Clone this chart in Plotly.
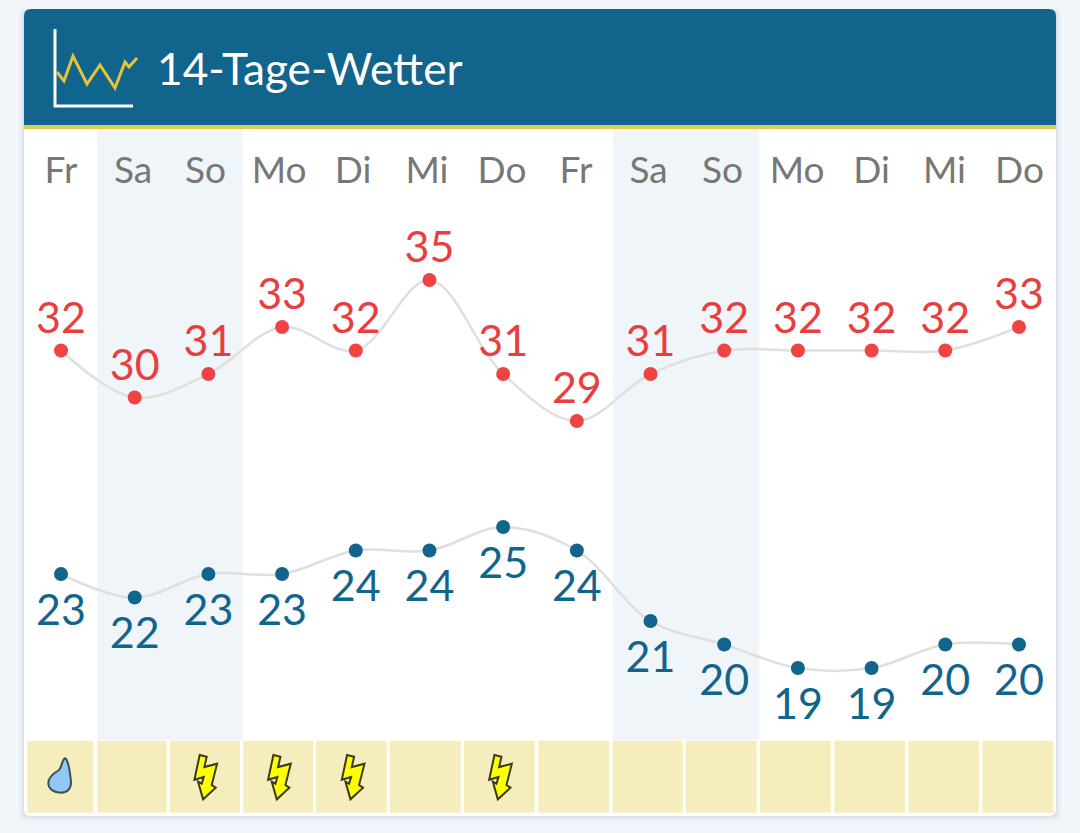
import plotly.graph_objects as go

days = ["Fr", "Sa", "So", "Mo", "Di", "Mi", "Do", "Fr", "Sa", "So", "Mo", "Di", "Mi", "Do"]
highs = [32, 30, 31, 33, 32, 35, 31, 29, 31, 32, 32, 32, 32, 33]
lows = [23, 22, 23, 23, 24, 24, 25, 24, 21, 20, 19, 19, 20, 20]
icons = ["rain", "", "bolt", "bolt", "bolt", "", "bolt", "", "", "", "", "", "", ""]
title = "14-Tage-Wetter"

W, H = 1080, 833
BLUE = "#11648c"
RED = "#f04444"
FONT = "Lato"
x_idx = list(range(len(days)))

# the header row and the tile row are table cells, they don't line up exactly with the points
LABEL_PX = [61, 133, 205.5, 279, 353, 427, 502, 576, 648.5, 722.5, 797, 871.5, 944.5, 1019.5]
TILE_PX = [(27.3, 93.3), (97.3, 166.7), (170, 240), (243.3, 313.3), (316, 386.7), (390, 460.7), (464, 534.7),
           (538.3, 609.3), (612.7, 682.7), (686, 756.7), (760, 830.7), (834.3, 905), (908.3, 979), (982.3, 1053.3)]


def px(pts, close=True):
    # chrome is laid out in page pixels, y counted from the top
    d = "M" + " L".join(f"{x},{-y}" for x, y in pts)
    return d + (" Z" if close else "")


def chrome(path, **kw):
    return dict(type="path", path=path, xref="paper", yref="paper", xsizemode="pixel", ysizemode="pixel",
                xanchor=0, yanchor=1, layer="below", **kw)


def round_rect(x0, y0, x1, y1, tl=7, tr=7, br=7, bl=7):
    return (f"M{x0+tl},{-y0} L{x1-tr},{-y0} Q{x1},{-y0} {x1},{-y0-tr} L{x1},{-y1+br} Q{x1},{-y1} {x1-br},{-y1} "
            f"L{x0+bl},{-y1} Q{x0},{-y1} {x0},{-y1+bl} L{x0},{-y0-tl} Q{x0},{-y0} {x0+tl},{-y0} Z")


shapes = []
# card shadow, card, header
for grow, alpha in [(5, 0.025), (3, 0.035), (1, 0.05)]:
    shapes.append(chrome(round_rect(24 - grow, 9, 1056 + grow, 816 + grow), fillcolor=f"rgba(20,60,90,{alpha})",
                         line_width=0))
shapes.append(chrome(round_rect(24, 9, 1056, 816), fillcolor="white", line_width=0))
shapes.append(chrome(round_rect(24, 9, 1056, 125, br=0, bl=0), fillcolor=BLUE, line_width=0))
shapes.append(chrome(px([(24, 125), (1056, 125), (1056, 129), (24, 129)]), fillcolor="#e3c94e", line_width=0))

# header icon
shapes.append(chrome(px([(55, 29), (55, 106), (133, 106)], close=False), line=dict(color="white", width=3)))
shapes.append(chrome(px([(57, 72), (64, 81), (73, 56), (87, 84), (100, 65), (115, 88), (125, 62), (129, 67), (137, 58)],
                        close=False), line=dict(color="#e4c439", width=3)))
# menu dots
for cy in [44, 68, 92]:
    shapes.append(chrome(f"M990,{-cy} A6,6 0 1 1 1002,{-cy} A6,6 0 1 1 990,{-cy} Z", fillcolor="white", line_width=0))

# weekend bands
for i, d in enumerate(days):
    if d == "Sa":
        x0, x1 = TILE_PX[i][0], TILE_PX[i + 1][1] + 2.5
        shapes.append(chrome(px([(x0, 129), (x1, 129), (x1, 740), (x0, 740)]), fillcolor="#eff5f9", line_width=0))

# condition tiles
DROP = ("M4.3,18.7 C7,17 9,5 10,-5 C10,-12 6,-15.7 0,-15.7 C-7,-15.7 -12.7,-12 -12.7,-6 "
        "C-12.7,0 -7,4 -2,7 C1,10 1,18 4.3,18.7 Z")
BOLT = ("M-8.7,22 L-1.7,20.3 L-4,10 L8.7,13.3 L3.3,-8 L7.3,-10.7 L-5.3,-22.3 L-10.3,-4.7 "
        "L-6.7,-6.7 L-4.7,0 L-14,-2.7 Z")
for i, kind in enumerate(icons):
    x0, x1 = TILE_PX[i]
    shapes.append(chrome(px([(x0, 740.7), (x1, 740.7), (x1, 812.7), (x0, 812.7)]), fillcolor="#f5edbc", line_width=0))
    if kind:
        shapes.append(dict(type="path", xref="x", yref="paper", xsizemode="pixel", ysizemode="pixel", xanchor=i,
                           yanchor=1 - 777 / H, path=DROP if kind == "rain" else BOLT,
                           fillcolor="#90c6fa" if kind == "rain" else "#ffff00",
                           line=dict(color="#3f4c50" if kind == "rain" else "#3a3a20", width=2), layer="above"))

fig = go.Figure()
spline = dict(color="#dfdfdf", width=2.5, shape="spline", smoothing=1)
fig.add_trace(go.Scatter(x=x_idx, y=highs, mode="lines", line=spline))
fig.add_trace(go.Scatter(x=x_idx, y=lows, yaxis="y2", mode="lines", line=spline))
fig.add_trace(go.Scatter(x=x_idx, y=highs, mode="markers", marker=dict(color=RED, size=14)))
fig.add_trace(go.Scatter(x=x_idx, y=lows, yaxis="y2", mode="markers", marker=dict(color=BLUE, size=14)))
# invisible markers only set how far the labels sit from the points
fig.add_trace(go.Scatter(x=x_idx, y=highs, mode="markers+text", text=[str(v) for v in highs], textposition="top center",
                         marker=dict(size=10, opacity=0), textfont=dict(family=FONT, size=43, color="#e83e3e")))
fig.add_trace(go.Scatter(x=x_idx, y=lows, yaxis="y2", mode="markers+text", text=[str(v) for v in lows],
                         textposition="bottom center", marker=dict(size=28, opacity=0),
                         textfont=dict(family=FONT, size=43, color=BLUE)))

fig.update_layout(
    width=W, height=H, margin=dict(l=0, r=0, t=0, b=0), paper_bgcolor="#f0f5f9", plot_bgcolor="rgba(0,0,0,0)",
    showlegend=False, hovermode=False, shapes=shapes,
    xaxis=dict(range=[-0.828, 13.828], domain=[0, 1], side="top", anchor="free", position=1 - 190 / H, tickmode="array",
               tickvals=[(p - 61) / 73.69 for p in LABEL_PX], ticktext=days,
               tickfont=dict(family=FONT, size=37, color="#777777"), showgrid=False,
               zeroline=False, showline=False, ticks=""),
    yaxis=dict(range=[11.468, 46.915], domain=[0, 1], visible=False, fixedrange=True),
    yaxis2=dict(range=[11.979, 47.426], domain=[0, 1], overlaying="y", visible=False, fixedrange=True),
    annotations=[dict(text=title, xref="paper", yref="paper", x=155 / W, y=1 - 67.5 / H, xanchor="left", yanchor="middle",
                      showarrow=False, font=dict(family=FONT, size=44.2, color="white"))],
)

fig.write_html("out.html", config=dict(displayModeBar=False),
               post_script="document.body.style.margin='0';")
